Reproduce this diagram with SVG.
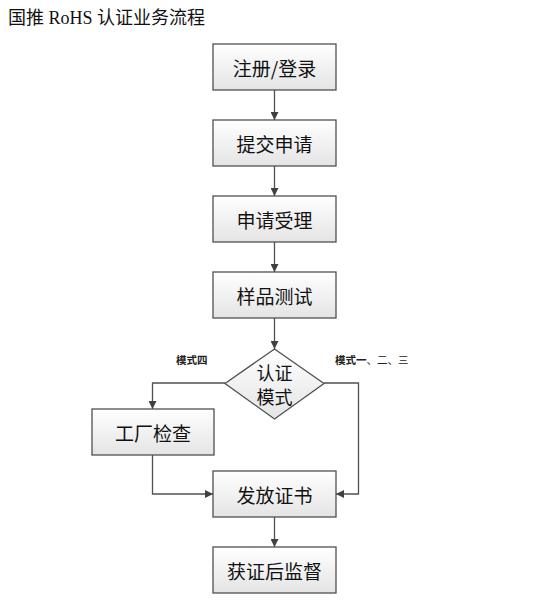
<svg xmlns="http://www.w3.org/2000/svg" width="549" height="607" viewBox="0 0 549 607">
<defs>
<linearGradient id="g" x1="0" y1="0" x2="0" y2="1">
<stop offset="0" stop-color="#ffffff"/>
<stop offset="1" stop-color="#e4e4e4"/>
</linearGradient>
<marker id="a" viewBox="0 0 10 10" refX="10" refY="5" markerWidth="8" markerHeight="8" markerUnits="userSpaceOnUse" orient="auto">
<path d="M0,0 L10,5 L0,10 Z" fill="#404040"/>
</marker>
<style>
.box{fill:url(#g);stroke:#505050;stroke-width:1.3}
.t{font-family:"Noto Sans CJK SC",sans-serif;font-size:19px;fill:#111;text-anchor:middle;dominant-baseline:central}
.d{font-size:18px}
.c{fill:none;stroke:#505050;stroke-width:1.3;marker-end:url(#a)}
.l{font-family:"Noto Sans CJK SC",sans-serif;font-size:10.5px;fill:#222}
</style>
</defs>
<rect width="549" height="607" fill="#fff"/>
<text x="8" y="24" font-family="'Liberation Serif','Noto Sans CJK SC',serif" font-size="18" fill="#111">国推 RoHS 认证业务流程</text>
<g id="connectors">
<path class="c" d="M274.5,90 V120"/>
<path class="c" d="M274.5,166 V196"/>
<path class="c" d="M274.5,242 V272"/>
<path class="c" d="M274.5,318 V349"/>
<path class="c" d="M225,383 H152.5 V409"/>
<path class="c" d="M324,383 H358.5 V494 H336"/>
<path class="c" d="M152.5,455 V494 H213"/>
<path class="c" d="M274.5,517 V547"/>
</g>
<g id="n1"><rect class="box" x="213" y="44" width="123" height="46"/><text class="t" x="274.5" y="67">注册/登录</text></g>
<g id="n2"><rect class="box" x="213" y="120" width="123" height="46"/><text class="t" x="274.5" y="143">提交申请</text></g>
<g id="n3"><rect class="box" x="213" y="196" width="123" height="46"/><text class="t" x="274.5" y="219">申请受理</text></g>
<g id="n4"><rect class="box" x="213" y="272" width="123" height="46"/><text class="t" x="274.5" y="295">样品测试</text></g>
<g id="n5"><path class="box" d="M274.5,349 L324,383.5 L274.5,419 L225,383.5 Z"/><text class="t d" x="274.5" y="372">认证</text><text class="t d" x="274.5" y="396">模式</text></g>
<g id="n6"><rect class="box" x="92" y="409" width="122" height="46"/><text class="t" x="153" y="432">工厂检查</text></g>
<g id="n7"><rect class="box" x="213" y="471" width="123" height="46"/><text class="t" x="274.5" y="494">发放证书</text></g>
<g id="n8"><rect class="box" x="213" y="547" width="123" height="46"/><text class="t" x="274.5" y="570">获证后监督</text></g>
<text class="l" x="176" y="364" font-weight="bold">模式四</text>
<text class="l" x="335" y="364"><tspan font-weight="bold">模式一</tspan>、二、三</text>
</svg>
